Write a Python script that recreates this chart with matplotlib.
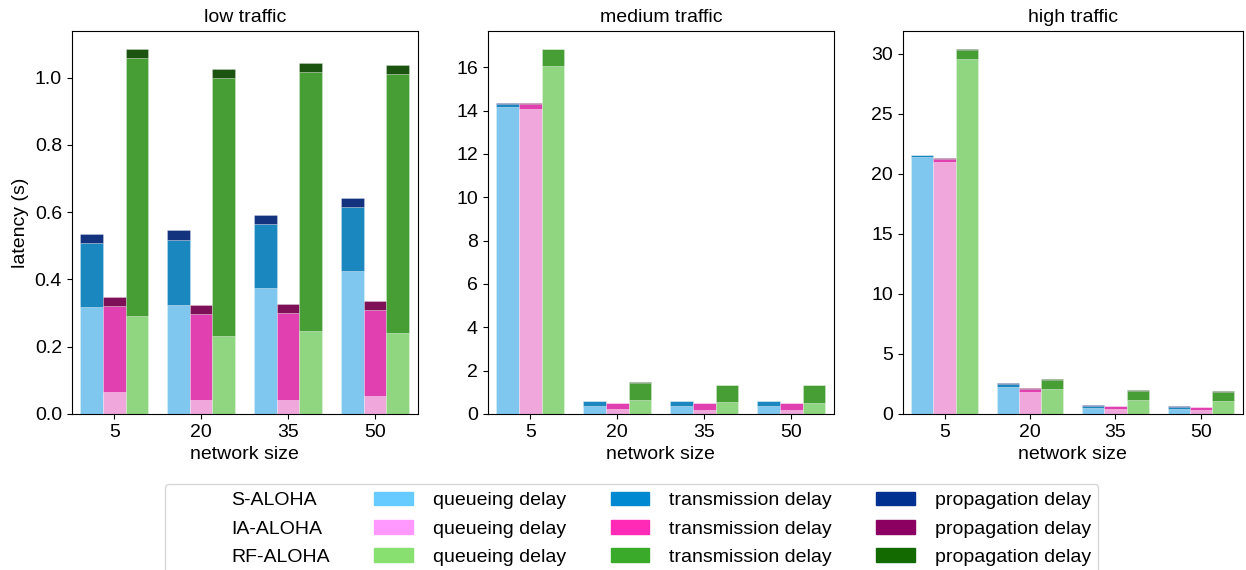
import numpy as np
import matplotlib
matplotlib.use("Agg")
import matplotlib.pyplot as plt
from matplotlib.patches import Patch

plt.rcParams['font.family'] = ['Liberation Sans', 'DejaVu Sans']
plt.rcParams['font.size'] = 14

sizes = ['5', '20', '35', '50']
titles = ['low traffic', 'medium traffic', 'high traffic']
schemes = ['S-ALOHA', 'IA-ALOHA', 'RF-ALOHA']

# segment heights (s): queueing / transmission / propagation
low_s_queue = [0.317, 0.325, 0.374, 0.425]
low_s_trans = [0.191, 0.192, 0.192, 0.189]
low_s_prop = [0.026, 0.029, 0.026, 0.029]
low_ia_queue = [0.065, 0.041, 0.043, 0.052]
low_ia_trans = [0.255, 0.257, 0.256, 0.257]
low_ia_prop = [0.027, 0.027, 0.028, 0.026]
low_rf_queue = [0.291, 0.231, 0.247, 0.240]
low_rf_trans = [0.768, 0.769, 0.768, 0.770]
low_rf_prop = [0.026, 0.026, 0.028, 0.026]

med_s_queue = [14.15, 0.37, 0.37, 0.37]
med_s_trans = [0.16, 0.23, 0.23, 0.23]
med_s_prop = [0.06, 0.02, 0.02, 0.02]
med_ia_queue = [14.07, 0.23, 0.19, 0.19]
med_ia_trans = [0.24, 0.27, 0.31, 0.31]
med_ia_prop = [0.05, 0.02, 0.02, 0.02]
med_rf_queue = [16.07, 0.63, 0.55, 0.51]
med_rf_trans = [0.76, 0.80, 0.78, 0.82]
med_rf_prop = [0.02, 0.03, 0.02, 0.02]

high_s_queue = [21.38, 2.28, 0.47, 0.44]
high_s_trans = [0.15, 0.25, 0.19, 0.17]
high_s_prop = [0.05, 0.05, 0.05, 0.05]
high_ia_queue = [20.97, 1.86, 0.39, 0.33]
high_ia_trans = [0.25, 0.22, 0.25, 0.25]
high_ia_prop = [0.08, 0.05, 0.03, 0.03]
high_rf_queue = [29.60, 2.08, 1.14, 1.08]
high_rf_trans = [0.75, 0.78, 0.80, 0.75]
high_rf_prop = [0.05, 0.04, 0.03, 0.05]

panels = [
    [(low_s_queue, low_s_trans, low_s_prop),
     (low_ia_queue, low_ia_trans, low_ia_prop),
     (low_rf_queue, low_rf_trans, low_rf_prop)],
    [(med_s_queue, med_s_trans, med_s_prop),
     (med_ia_queue, med_ia_trans, med_ia_prop),
     (med_rf_queue, med_rf_trans, med_rf_prop)],
    [(high_s_queue, high_s_trans, high_s_prop),
     (high_ia_queue, high_ia_trans, high_ia_prop),
     (high_rf_queue, high_rf_trans, high_rf_prop)],
]

# bar colours (as drawn) and legend colours
bar_colors = [['#7fc7ee', '#1b87bf', '#14337f'],
              ['#f0a8dc', '#e040b0', '#7e1058'],
              ['#90d680', '#469e34', '#1a5410']]
leg_colors = [['#66ccff', '#0088d0', '#003090'],
              ['#ff99ff', '#ff2ab5', '#8b0060'],
              ['#88e070', '#3aaa2a', '#136a00']]

fig = plt.figure(figsize=(12.46, 5.7), dpi=100)
lefts = [0.0575, 0.3914, 0.7245]
widths = [0.2777, 0.2779, 0.2729]

x = np.arange(len(sizes))
w = 0.26
edge = (1, 1, 1, 0.35)
for k in range(3):
    ax = fig.add_axes([lefts[k], 0.2737, widths[k], 0.6725])
    for j, (q, t, p) in enumerate(panels[k]):
        pos = x + (j - 1) * w
        q = np.array(q); t = np.array(t); p = np.array(p)
        c = bar_colors[j]
        ax.bar(pos, q, w, color=c[0], edgecolor=edge, linewidth=0.5)
        ax.bar(pos, t, w, bottom=q, color=c[1], edgecolor=edge, linewidth=0.5)
        ax.bar(pos, p, w, bottom=q + t, color=c[2], edgecolor=edge, linewidth=0.5)
    ax.set_xticks(x)
    ax.set_xticklabels(sizes)
    ax.set_xlim(-0.49, 3.49)
    ax.set_title(titles[k], fontsize=14)
    ax.set_xlabel('network size')
    if k == 0:
        ax.set_ylabel('latency (s)')

handles = []
labels = []
for j in range(3):
    handles.append(Patch(facecolor='none', edgecolor='none'))
    labels.append(schemes[j])
comp_names = ['queueing delay', 'transmission delay', 'propagation delay']
for i in range(3):
    for j in range(3):
        handles.append(Patch(facecolor=leg_colors[j][i], edgecolor=leg_colors[j][i]))
        labels.append(comp_names[i])

fig.legend(handles, labels, ncol=4, loc='upper center',
           bbox_to_anchor=(0.507, 0.168), fontsize=14,
           handletextpad=1.0, columnspacing=2.3, labelspacing=0.55)

fig.savefig('out.png', dpi=100)
